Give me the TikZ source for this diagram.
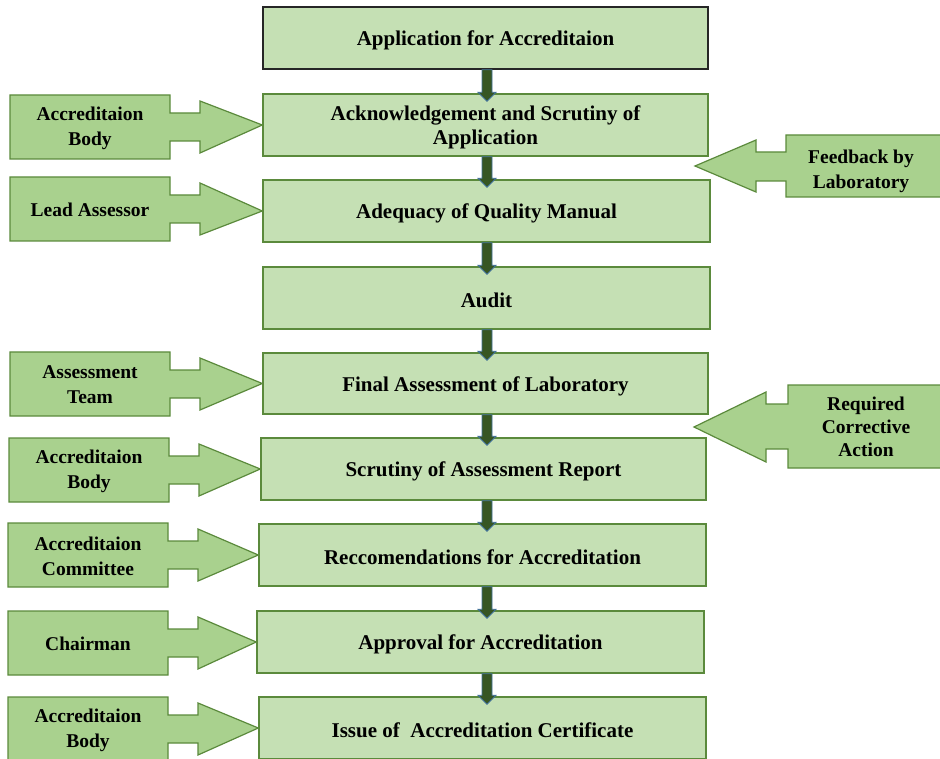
\documentclass[tikz,border=0pt]{standalone}
\usepackage{fontspec}
\setmainfont{Liberation Serif}
\usetikzlibrary{calc}
\definecolor{boxfill}{HTML}{C5E0B4}
\definecolor{sidefill}{HTML}{A9D18E}
\definecolor{greenline}{HTML}{5B8A3C}
\definecolor{darkgreen}{HTML}{375623}
\definecolor{blueline}{HTML}{41719C}
\tikzset{
  box/.style={draw=greenline, fill=boxfill, line width=1.4pt, minimum height=62pt,
    inner sep=0pt, align=center, font=\fontsize{21}{24}\selectfont\bfseries},
  topbox/.style={box, draw=black!85},
  boxtext/.style={align=center, inner sep=0pt, font=\fontsize{21}{24}\selectfont\bfseries},
  sideblock/.style={draw=greenline, fill=sidefill, line width=1.2pt, line join=miter},
  sidetext/.style={align=center, inner sep=0pt, font=\fontsize{19.5}{25}\selectfont\bfseries},
  downarrow/.style={fill=darkgreen, draw=blueline, line width=0.8pt, line join=miter}
}
% vertical block arrow between two boxes
\newcommand\flowarrow[2]{%
  \path[downarrow] ($(ax|-#1.south)+(-5,0)$) -- ($(ax|-#2.north)+(-5,-1)$) -- ++(-4,0)
    -- ($(ax|-#2.north)+(0,8)$) -- ($(ax|-#2.north)+(9,-1)$) -- ++(-4,0)
    -- ($(ax|-#1.south)+(5,0)$) -- cycle;}
% left block arrow: #1 name, #2 centre y, #3 left x, #4 target node, #5 text
\newcommand\leftblock[5]{%
  \path[sideblock] (#3,#2-32) -- (#3+160,#2-32) -- (#3+160,#2-14) -- (#3+190,#2-14)
    -- (#3+190,#2-26) -- (#4.west) -- (#3+190,#2+26) -- (#3+190,#2+14) -- (#3+160,#2+14)
    -- (#3+160,#2+32) -- (#3,#2+32) -- cycle;
  \node[sidetext] (#1) at (#3+80,#2+1) {#5};}
% main box: #1 name, #2 centre, #3 width, #4 style, #5 text
\newcommand\mainbox[5]{%
  \node[#4, minimum width=#3pt] (#1) at (#2) {};
  \node[boxtext] (#1t) at ($(#1.center)+(0,2.5)$) {#5};}
\begin{document}
\begin{tikzpicture}[x=1pt,y=-1pt]
\useasboundingbox (0,0) rectangle (940,759);
\coordinate (ax) at (487,0);
% main boxes
\mainbox{b1}{485.5,38}{445}{topbox}{Application for Accreditaion}
\mainbox{b2}{485.5,125}{445}{box}{Acknowledgement and Scrutiny of\\Application}
\mainbox{b3}{486.5,211}{447}{box}{Adequacy of Quality Manual}
\mainbox{b4}{486.5,298}{447}{box}{Audit}
\mainbox{b5}{485.5,383.5}{445}{box,minimum height=61pt}{Final Assessment of Laboratory}
\mainbox{b6}{483.5,469}{445}{box}{Scrutiny of Assessment Report}
\mainbox{b7}{482.5,555}{447}{box}{Reccomendations for Accreditation}
\mainbox{b8}{480.5,642}{447}{box}{Approval for Accreditation}
\mainbox{b9}{482.5,728}{447}{box}{Issue of~ Accreditation Certificate}
% flow arrows
\flowarrow{b1}{b2}
\flowarrow{b2}{b3}
\flowarrow{b3}{b4}
\flowarrow{b4}{b5}
\flowarrow{b5}{b6}
\flowarrow{b6}{b7}
\flowarrow{b7}{b8}
\flowarrow{b8}{b9}
% left block arrows
\leftblock{l1}{127}{10}{b2}{Accreditaion\\Body}
\leftblock{l2}{209}{10}{b3}{Lead Assessor}
\leftblock{l3}{384}{10}{b5}{Assessment\\Team}
\leftblock{l4}{470}{9}{b6}{Accreditaion\\Body}
\leftblock{l5}{555}{8}{b7}{Accreditaion\\Committee}
\leftblock{l6}{643}{8}{b8}{Chairman}
\leftblock{l7}{729}{8}{b9}{Accreditaion\\Body}
% right block arrows (tips point into the gaps between boxes)
\coordinate (t1) at (695,166);
\path[sideblock] (941,135) -- (786,135) -- (786,152) -- (756,152) -- (756,140) -- (t1)
  -- (756,192) -- (756,181) -- (786,181) -- (786,197) -- (941,197) -- cycle;
\node[sidetext] (r1) at (861,171) {Feedback by\\Laboratory};
\coordinate (t2) at (694,427);
\path[sideblock] (941,385) -- (788,385) -- (788,404) -- (766,404) -- (766,392) -- (t2)
  -- (766,462) -- (766,449) -- (788,449) -- (788,468) -- (941,468) -- cycle;
\node[sidetext, font=\fontsize{19.5}{23}\selectfont\bfseries] (r2) at (866,427) {Required\\Corrective\\Action};
\end{tikzpicture}
\end{document}
